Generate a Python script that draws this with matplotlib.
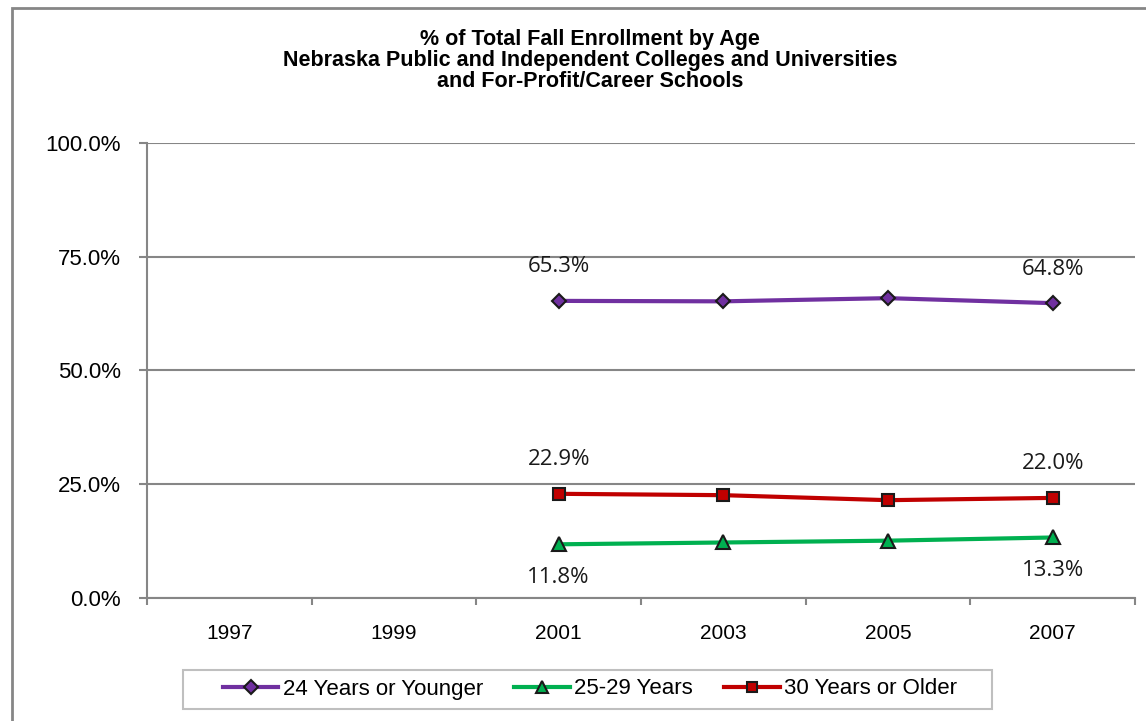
import matplotlib.pyplot as plt
import numpy as np
from matplotlib.patches import Rectangle

# Dados
years = ['1997', '1999', '2001', '2003', '2005', '2007']
young = np.array([np.nan, np.nan, 65.3, 65.2, 65.9, 64.8])
mid = np.array([np.nan, np.nan, 11.8, 12.2, 12.6, 13.3])
older = np.array([np.nan, np.nan, 22.9, 22.6, 21.5, 22.0])
title_lines = ['% of Total Fall Enrollment by Age',
               'Nebraska Public and Independent Colleges and Universities',
               'and For-Profit/Career Schools']

x = np.arange(len(years))
grey = '#868686'

fig = plt.figure(figsize=(11.46, 7.21), dpi=100)
ax = fig.add_axes([147/1146, 1 - 598/721, (1135-147)/1146, (598-143)/721])

ax.plot(x, young, color='#7030A0', lw=3, marker='D', ms=7.5, mfc='#7030A0', mec='#1a1a1a', mew=1.5,
        label='24 Years or Younger')
ax.plot(x, mid, color='#00B050', lw=3, marker='^', ms=10, mfc='#00B050', mec='#1a1a1a', mew=1.5,
        label='25-29 Years')
ax.plot(x, older, color='#C00000', lw=3, marker='s', ms=8, mfc='#C00000', mec='#1a1a1a', mew=1.5,
        label='30 Years or Older')

# etiquetas no primeiro e ultimo ponto
lbl = dict(ha='center', va='center', fontsize=16, family='Open Sans', color='#1a1a1a',
           textcoords='offset pixels')
for i in (2, 5):
    ax.annotate(f'{young[i]:.1f}%', (x[i], young[i]), xytext=(0, 34), **lbl)
    ax.annotate(f'{older[i]:.1f}%', (x[i], older[i]), xytext=(0, 34), **lbl)
    ax.annotate(f'{mid[i]:.1f}%', (x[i], mid[i]), xytext=(0, -33), **lbl)

ax.set_xlim(-0.5, 5.5)
ax.set_ylim(0, 100)
ax.set_yticks([0, 25, 50, 75, 100])
ax.set_yticklabels([f'{v:.1f}%' for v in [0, 25, 50, 75, 100]], fontsize=16, family='Liberation Sans')
ax.set_xticks(x)
ax.set_xticklabels(years, fontsize=15, family='Liberation Sans')
ax.set_xticks(np.arange(-0.5, 6, 1), minor=True)
ax.tick_params(axis='x', which='major', length=0, pad=19)
ax.tick_params(axis='x', which='minor', length=5, color=grey, direction='out', width=1.5)
ax.tick_params(axis='y', length=6, color=grey, width=1.5, pad=13)
ax.grid(axis='y', color=grey, lw=1.5)
for s in ['top', 'right']:
    ax.spines[s].set_visible(False)
for s in ['left', 'bottom']:
    ax.spines[s].set_color(grey)
    ax.spines[s].set_linewidth(1.5)

# titulo, uma linha de cada vez (linha de base)
for line, ypx in zip(title_lines, [45, 66, 87]):
    fig.text(590/1146, 1 - ypx/721, line, ha='center', va='baseline', fontsize=15.5,
             fontweight='bold', family='Liberation Sans')

leg = fig.legend(loc='center', bbox_to_anchor=(590/1146, 1 - 689/721), ncol=3, frameon=False,
                 prop={'family': 'Liberation Sans', 'size': 16},
                 handlelength=2.5, columnspacing=1.4, handletextpad=0.2, borderpad=0, borderaxespad=0,
                 markerscale=0.9)

# caixa da legenda
fig.patches.append(Rectangle((183/1146, 1 - 709/721), (992-183)/1146, 39/721, transform=fig.transFigure,
                             fill=False, edgecolor='#bfbfbf', lw=1.5))

# borda externa
fig.patches.append(Rectangle((12/1146, -0.1), 1.2, 1 - 8/721 + 0.1, transform=fig.transFigure,
                             fill=False, edgecolor=grey, lw=2))

fig.savefig('out.png', dpi=100)
